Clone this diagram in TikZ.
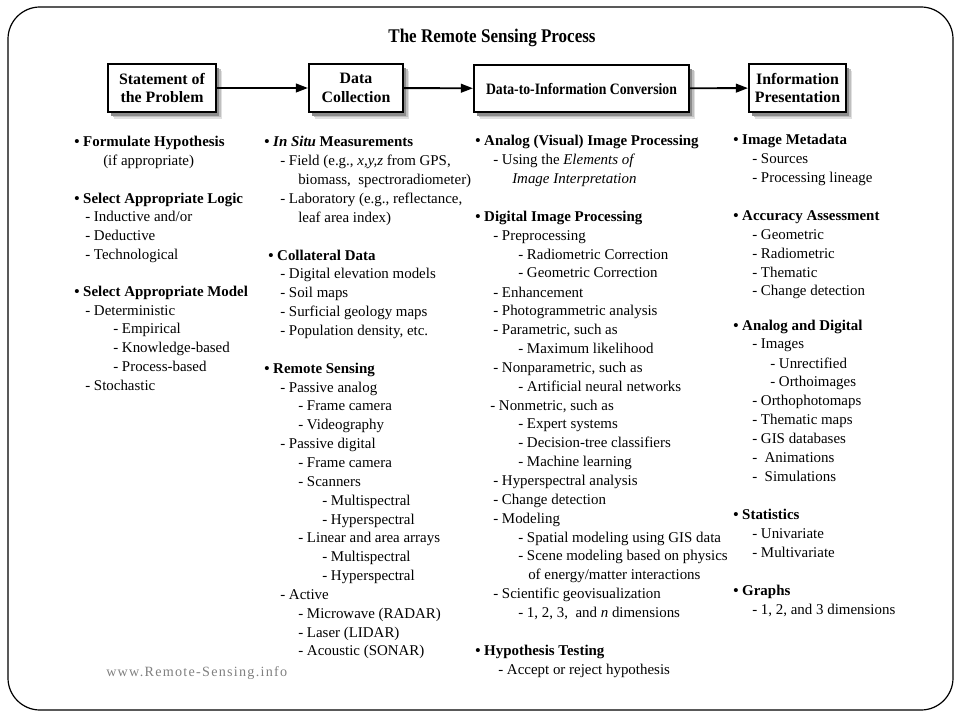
\documentclass[tikz,border=0pt]{standalone}
\usepackage{fontspec}
\usepackage{graphicx}
\newfontfamily\tnr{Liberation Serif}
\newfontfamily\footfont[LetterSpace=9]{Liberation Serif}
\usetikzlibrary{arrows.meta,shadows}
\definecolor{webgray}{RGB}{128,128,128}
\newcommand\colline[4]{\node[txt] (#1) at (#2,#3) {#4};}
\begin{document}
\begin{tikzpicture}[x=0.75pt,y=-0.75pt,
  txt/.style={anchor=base west,inner sep=0pt,font=\tnr\fontsize{11.2}{13.5}\selectfont,text=black},
  stage/.style={draw,line width=1.6pt,fill=white,align=center,inner sep=0pt,
    font=\tnr\bfseries\fontsize{11.9}{13.7}\selectfont,
    general shadow={fill=black!12,shadow xshift=4.5pt,shadow yshift=-5pt},
    general shadow={fill=black!25,shadow xshift=3.5pt,shadow yshift=-4pt},
    general shadow={fill=black!45,shadow xshift=2.5pt,shadow yshift=-3pt}},
  flow/.style={line width=1.4pt,-{Triangle[length=9pt,width=6.5pt]}}]
\useasboundingbox (0,0) rectangle (960,720);
\draw[line width=0.9pt,rounded corners=24pt] (8,7) rectangle (953,710);

\node[anchor=base,inner sep=0pt,font=\tnr\bfseries\fontsize{14.5}{16}\selectfont] (title) at (492,43) {\scalebox{0.88}[1]{The Remote Sensing Process}};

\node[stage,minimum width=81pt,minimum height=36pt] (s1) at (162,88) {Statement of\\the Problem};
\node[stage,minimum width=70.5pt,minimum height=36pt] (s2) at (356,88) {Data\\Collection};
\node[stage,minimum width=161.25pt,minimum height=35.5pt] (s3) at (581.5,88.5) {\scalebox{0.865}[1]{Data-to-Information Conversion}};
\node[stage,minimum width=72.75pt,minimum height=36pt] (s4) at (797.5,88) {Information\\Presentation};
\draw[flow] (s1) -- (s2);
\draw[flow] (s2) -- (s3);
\draw[flow] (s3) -- (s4);

% column 1
\colline{a1}{74}{147}{\textbf{\textbullet\ Formulate Hypothesis}}
\colline{a2}{103}{165.7}{(if appropriate)}
\colline{a3}{74}{203.1}{\textbf{\textbullet\ Select Appropriate Logic}}
\colline{a4}{85}{221.8}{- Inductive and/or}
\colline{a5}{85}{240.5}{- Deductive}
\colline{a6}{85}{259.2}{- Technological}
\colline{a7}{74}{296.6}{\textbf{\textbullet\ Select Appropriate Model}}
\colline{a8}{85}{315.3}{- Deterministic}
\colline{a9}{113}{334}{- Empirical}
\colline{a10}{113}{352.7}{- Knowledge-based}
\colline{a11}{113}{371.4}{- Process-based}
\colline{a12}{85}{390.1}{- Stochastic}

% column 2
\colline{b1}{264}{147}{\textbf{\textbullet\ \textit{In Situ} Measurements}}
\colline{b2}{280}{165.85}{- Field (e.g., \textit{x,y,z} from GPS,}
\colline{b3}{298}{184.7}{biomass,\ \ spectroradiometer)}
\colline{b4}{280}{203.55}{- Laboratory (e.g., reflectance,}
\colline{b5}{298}{222.4}{leaf area index)}
\colline{b6}{268}{260.1}{\textbf{\textbullet\ Collateral Data}}
\colline{b7}{280}{278.95}{- Digital elevation models}
\colline{b8}{280}{297.8}{- Soil maps}
\colline{b9}{280}{316.65}{- Surficial geology maps}
\colline{b10}{280}{335.5}{- Population density, etc.}
\colline{b11}{264}{373.2}{\textbf{\textbullet\ Remote Sensing}}
\colline{b12}{280}{392.05}{- Passive analog}
\colline{b13}{298}{410.9}{- Frame camera}
\colline{b14}{298}{429.75}{- Videography}
\colline{b15}{280}{448.6}{- Passive digital}
\colline{b16}{298}{467.45}{- Frame camera}
\colline{b17}{298}{486.3}{- Scanners}
\colline{b18}{322}{505.15}{- Multispectral}
\colline{b19}{322}{524}{- Hyperspectral}
\colline{b20}{298}{542.85}{- Linear and area arrays}
\colline{b21}{322}{561.7}{- Multispectral}
\colline{b22}{322}{580.55}{- Hyperspectral}
\colline{b23}{280}{599.4}{- Active}
\colline{b24}{298}{618.25}{- Microwave (RADAR)}
\colline{b25}{298}{637.1}{- Laser (LIDAR)}
\colline{b26}{298}{655.95}{- Acoustic (SONAR)}

% column 3
\colline{c1}{475}{146}{\textbf{\textbullet\ Analog (Visual) Image Processing}}
\colline{c2}{493}{165}{- Using the \textit{Elements of}}
\colline{c3}{512}{184}{\textit{Image Interpretation}}
\colline{c4}{475}{221.5}{\textbf{\textbullet\ Digital Image Processing}}
\colline{c5}{493}{240.4}{- Preprocessing}
\colline{c6}{518}{259.2}{- Radiometric Correction}
\colline{c7}{518}{278}{- Geometric Correction}
\colline{c8}{493}{297}{- Enhancement}
\colline{c9}{493}{315.8}{- Photogrammetric analysis}
\colline{c10}{493}{334.6}{- Parametric, such as}
\colline{c11}{518}{353.5}{- Maximum likelihood}
\colline{c12}{493}{372.3}{- Nonparametric, such as}
\colline{c13}{518}{391.2}{- Artificial neural networks}
\colline{c14}{490}{410}{- Nonmetric, such as}
\colline{c15}{518}{428.9}{- Expert systems}
\colline{c16}{518}{447.7}{- Decision-tree classifiers}
\colline{c17}{518}{466.6}{- Machine learning}
\colline{c18}{493}{485.4}{- Hyperspectral analysis}
\colline{c19}{493}{504.3}{- Change detection}
\colline{c20}{493}{523.1}{- Modeling}
\colline{c21}{518}{542}{- Spatial modeling using GIS data}
\colline{c22}{518}{560.8}{- Scene modeling based on physics}
\colline{c23}{528}{579.7}{of energy/matter interactions}
\colline{c24}{493}{598.5}{- Scientific geovisualization}
\colline{c25}{518}{617.4}{- 1, 2, 3,\ \ and \textit{n} dimensions}
\colline{c26}{475}{655}{\textbf{\textbullet\ Hypothesis Testing}}
\colline{c27}{498}{674}{- Accept or reject hypothesis}

% column 4
\colline{d1}{733}{145}{\textbf{\textbullet\ Image Metadata}}
\colline{d2}{752}{163.5}{- Sources}
\colline{d3}{752}{182.5}{- Processing lineage}
\colline{d4}{733}{221}{\textbf{\textbullet\ Accuracy Assessment}}
\colline{d5}{752}{240}{- Geometric}
\colline{d6}{752}{258.5}{- Radiometric}
\colline{d7}{752}{277}{- Thematic}
\colline{d8}{752}{296}{- Change detection}
\colline{d9}{733}{330}{\textbf{\textbullet\ Analog and Digital}}
\colline{d10}{752}{348.5}{- Images}
\colline{d11}{770}{368}{- Unrectified}
\colline{d12}{770}{386.5}{- Orthoimages}
\colline{d13}{752}{405}{- Orthophotomaps}
\colline{d14}{752}{424}{- Thematic maps}
\colline{d15}{752}{443}{- GIS databases}
\colline{d16}{752}{462.5}{-\ \ Animations}
\colline{d17}{752}{481}{-\ \ Simulations}
\colline{d18}{733}{519}{\textbf{\textbullet\ Statistics}}
\colline{d19}{752}{538}{- Univariate}
\colline{d20}{752}{557}{- Multivariate}
\colline{d21}{733}{595}{\textbf{\textbullet\ Graphs}}
\colline{d22}{752}{614}{- 1, 2, and 3 dimensions}

\node[anchor=base west,inner sep=0pt,font=\footfont\fontsize{10.6}{12}\selectfont,text=webgray] (web) at (106,676) {www.Remote-Sensing.info};
\end{tikzpicture}
\end{document}
